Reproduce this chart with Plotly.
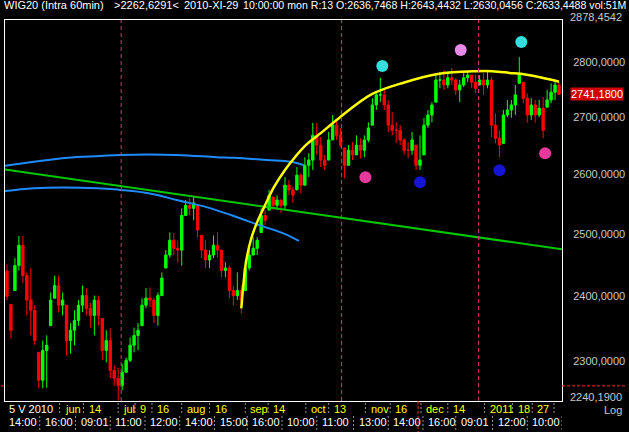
import numpy as np
import plotly.graph_objects as go

# hourly WIG20 bars, 5 V 2010 .. end of I 2011 (one value per ~4px column)
high = [2451, 2387, 2461, 2497, 2497, 2438, 2445, 2386, 2313, 2331,
        2339, 2406, 2433, 2433, 2406, 2386, 2358, 2378, 2394, 2417,
        2413, 2390, 2401, 2401, 2365, 2347, 2350, 2293, 2290, 2296,
        2305, 2336, 2351, 2358, 2397, 2413, 2414, 2397, 2406, 2438,
        2474, 2503, 2502, 2490, 2543, 2557, 2560, 2562, 2548, 2498,
        2490, 2474, 2498, 2503, 2474, 2454, 2449, 2417, 2438, 2417,
        2458, 2479, 2495, 2495, 2543, 2540, 2574, 2562, 2565, 2557,
        2596, 2591, 2579, 2613, 2602, 2630, 2637, 2690, 2690, 2665,
        2634, 2674, 2704, 2695, 2681, 2646, 2651, 2656, 2668, 2663,
        2668, 2691, 2734, 2745, 2771, 2752, 2731, 2709, 2691, 2686,
        2663, 2656, 2674, 2651, 2668, 2699, 2713, 2727, 2776, 2782,
        2785, 2780, 2789, 2771, 2767, 2780, 2783, 2776, 2776, 2776,
        2780, 2782, 2772, 2707, 2677, 2713, 2731, 2731, 2758, 2809,
        2763, 2743, 2734, 2731, 2731, 2736, 2749, 2761, 2767, 2763]
low = [2394, 2334, 2409, 2441, 2421, 2370, 2339, 2324, 2259, 2259,
       2260, 2354, 2397, 2375, 2370, 2308, 2311, 2324, 2354, 2375,
       2370, 2351, 2339, 2354, 2301, 2298, 2274, 2263, 2241, 2256,
       2283, 2298, 2313, 2316, 2354, 2381, 2383, 2358, 2354, 2401,
       2445, 2462, 2466, 2454, 2449, 2531, 2531, 2523, 2495, 2461,
       2445, 2445, 2461, 2462, 2430, 2430, 2397, 2386, 2394, 2373,
       2409, 2441, 2466, 2466, 2503, 2515, 2540, 2540, 2540, 2535,
       2540, 2565, 2552, 2574, 2568, 2582, 2596, 2608, 2634, 2613,
       2608, 2625, 2660, 2660, 2647, 2594, 2616, 2625, 2634, 2628,
       2630, 2656, 2686, 2713, 2727, 2713, 2674, 2668, 2654, 2651,
       2634, 2628, 2634, 2608, 2608, 2634, 2681, 2691, 2727, 2752,
       2749, 2752, 2758, 2740, 2727, 2754, 2763, 2752, 2743, 2758,
       2740, 2752, 2665, 2654, 2630, 2654, 2700, 2699, 2704, 2761,
       2725, 2690, 2695, 2690, 2700, 2663, 2718, 2725, 2731, 2740]
close = [2400, 2347, 2449, 2482, 2433, 2394, 2378, 2331, 2271, 2316,
         2324, 2394, 2417, 2386, 2394, 2331, 2347, 2362, 2386, 2401,
         2381, 2370, 2394, 2370, 2316, 2331, 2286, 2274, 2263, 2283,
         2301, 2324, 2339, 2347, 2386, 2397, 2394, 2370, 2401, 2429,
         2466, 2490, 2477, 2474, 2531, 2548, 2543, 2552, 2507, 2474,
         2458, 2466, 2482, 2474, 2441, 2445, 2409, 2401, 2409, 2394,
         2445, 2466, 2477, 2490, 2531, 2523, 2565, 2548, 2557, 2548,
         2582, 2574, 2565, 2599, 2582, 2616, 2625, 2668, 2651, 2625,
         2616, 2660, 2686, 2668, 2651, 2616, 2642, 2634, 2651, 2642,
         2660, 2681, 2722, 2740, 2740, 2722, 2686, 2677, 2677, 2660,
         2642, 2642, 2660, 2616, 2625, 2686, 2704, 2722, 2767, 2767,
         2758, 2771, 2767, 2749, 2758, 2771, 2776, 2763, 2752, 2767,
         2758, 2767, 2686, 2663, 2651, 2704, 2713, 2722, 2740, 2776,
         2734, 2704, 2722, 2704, 2716, 2677, 2731, 2745, 2758, 2741.18]
first_open = 2440

# drawn studies (bar index, price)
arc_blue_hi_x = [-0.5, 6.75, 15.25, 23.5, 28.5, 42.75, 52.75, 57.25, 65.5, 71.5, 74.75]
arc_blue_hi_y = [2615, 2622, 2629, 2632, 2634, 2634, 2630, 2629, 2625, 2622, 2616]
arc_blue_lo_x = [-0.5, 6.75, 22.75, 28.5, 36, 42.75, 50.25, 56.75, 63.5, 69.75, 73.5]
arc_blue_lo_y = [2572, 2577, 2577, 2574, 2568, 2557, 2545, 2531, 2515, 2501, 2489]
trend_x = [-0.5, 139.75]
trend_y = [2608.6, 2475.3]
arc_yellow_x = [59, 59.5, 60.25, 61.5, 63, 64.75, 67.25, 70, 72.5, 75.25, 79, 83.5,
                91.75, 100.25, 108.5, 118, 122.25, 126.5, 130.5, 134.75, 139]
arc_yellow_y = [2381, 2417, 2457, 2493, 2520, 2545, 2579, 2608, 2630, 2651, 2672, 2698,
                2741, 2763, 2778, 2783, 2783, 2780, 2777, 2771, 2764]
dots_x = [94.5, 129.5, 114.25, 90.25, 104, 124, 135.5]
dots_y = [2792.6, 2837.1, 2822.2, 2595.6, 2587.1, 2607.6, 2637.0]
dots_c = ['#33dede', '#33dede', '#e68ae6', '#e6399b', '#1414d2', '#1414d2', '#e6399b']
session_lines = [28.75, 84.25, 118.75]
cursor_x = 103.5
cursor_y = 2262.6291

# time axis
top_labels = ['5 V 2010', 'jun', '14', 'jul', '9', '16', 'aug', '16', 'sep', '14',
              'oct', '13', 'nov', '16', 'dec', '14', '2011', '18', '27']
top_pos = [-0.75, 13.25, 19.25, 28, 32.25, 36.5, 44, 51, 60, 65.75,
           75.25, 81, 90.25, 96.5, 104.25, 111, 120.25, 127.25, 132.25, 137.75]
bottom_labels = ['14:00', '16:00', '09:01', '11:00', '12:00', '14:00', '15:00', '16:00',
                 '10:00', '11:00', '13:00', '14:00', '16:00', '09:01', '12:00', '10:00']
bottom_pos = [-0.75, 8.25, 17.25, 26, 34.75, 43.5, 52.25, 60.5, 69.25, 78,
              87.25, 96, 104.75, 113, 122.25, 131, 139.75]
price_ticks = [2300, 2400, 2500, 2600, 2700, 2800]
price_min, price_max = 2240.19, 2878.4542
header_parts = ['WIG20 (Intra 60min)', '>2262,6291<', '2010-XI-29',
                '10:00:00 mon R:13 O:2636,7468 H:2643,4432 L:2630,0456 C:2633,4488 vol:51M']


def fmt(v):
    return f"{v:.4f}".replace('.', ',')


x = list(range(len(close)))
prev = [first_open] + close[:-1]
open_ = [min(max(p, l), h) for p, l, h in zip(prev, low, high)]

font = 'Liberation Sans, Arial, sans-serif'
grey = '#c8c8c8'
fig = go.Figure()
fig.add_candlestick(
    x=x, open=open_, high=high, low=low, close=close,
    increasing=dict(line=dict(color='#00ff00', width=1), fillcolor='#00ff00'),
    decreasing=dict(line=dict(color='#ff0000', width=1), fillcolor='#ff0000'),
    whiskerwidth=0, showlegend=False, hoverinfo='skip',
)
fig.add_scatter(x=arc_blue_hi_x, y=arc_blue_hi_y, mode='lines',
                line=dict(color='#1e8cff', width=2, shape='spline'), showlegend=False)
fig.add_scatter(x=arc_blue_lo_x, y=arc_blue_lo_y, mode='lines',
                line=dict(color='#1e8cff', width=2, shape='spline'), showlegend=False)
fig.add_scatter(x=trend_x, y=trend_y, mode='lines',
                line=dict(color='#00c800', width=2), showlegend=False)
fig.add_scatter(x=arc_yellow_x, y=arc_yellow_y, mode='lines',
                line=dict(color='#ffff00', width=2.5, shape='spline'), showlegend=False)
fig.add_scatter(x=dots_x, y=dots_y, mode='markers',
                marker=dict(size=12, color=dots_c, line=dict(width=0)), showlegend=False)
fig.add_scatter(x=[len(close) + 1], y=[close[-1]], mode='markers', cliponaxis=False,
                marker=dict(symbol='triangle-right', size=8, color='#ffff00'),
                showlegend=False)

shapes = []
for sx in session_lines:
    shapes.append(dict(type='line', xref='x', yref='paper', x0=sx, x1=sx, y0=0, y1=1,
                       line=dict(color='#e0307a', width=1, dash='4px,3px')))
shapes.append(dict(type='line', xref='x', yref='paper', ysizemode='pixel', yanchor=0,
                   x0=cursor_x, x1=cursor_x, y0=0, y1=-31,
                   line=dict(color='#ff2020', width=1, dash='3px,2px')))
for xa, x0, x1 in ((1, 0, 64), (0, -4, 0)):
    shapes.append(dict(type='line', xref='paper', yref='y', xsizemode='pixel', xanchor=xa,
                       x0=x0, x1=x1, y0=cursor_y, y1=cursor_y,
                       line=dict(color='#ff2020', width=1, dash='3px,2px')))
for p in top_pos:
    shapes.append(dict(type='line', xref='x', yref='paper', ysizemode='pixel', yanchor=0,
                       x0=p, x1=p, y0=-2, y1=-14,
                       line=dict(color='#909090', width=1, dash='2px,2px')))
for p in bottom_pos:
    shapes.append(dict(type='line', xref='x', yref='paper', ysizemode='pixel', yanchor=0,
                       x0=p, x1=p, y0=-15, y1=-31,
                       line=dict(color='#909090', width=1, dash='2px,2px')))

ann = []
for i, t in enumerate(top_labels):
    ann.append(dict(text=t, x=top_pos[i] + 0.8, xref='x', xanchor='left',
                    y=0, yref='paper', yanchor='middle', yshift=-8, showarrow=False,
                    font=dict(color='#ffffff' if i == 0 else '#ffff00', size=11, family=font)))
for i, t in enumerate(bottom_labels):
    ann.append(dict(text=t, x=bottom_pos[i] + 0.8, xref='x', xanchor='left',
                    y=0, yref='paper', yanchor='middle', yshift=-21, showarrow=False,
                    font=dict(color='#ffffff', size=11, family=font)))
# header line, pieces placed where the terminal prints them
for t, px, fs in zip(header_parts, (3, 113, 183, 242), (11, 11, 11, 10.6)):
    ann.append(dict(text=t, x=0, xref='paper', xanchor='left', xshift=px - 5,
                    y=1, yref='paper', yanchor='middle', yshift=15, showarrow=False,
                    borderpad=0,
                    font=dict(color='#ffffff', size=fs, family=font)))
ann.append(dict(text=fmt(close[-1]), x=1, xref='paper', xanchor='left', xshift=8,
                y=np.log10(close[-1]), yref='y', yanchor='middle', showarrow=False,
                bgcolor='#d00000', borderpad=0,
                font=dict(color='#ffffff', size=11, family=font)))
# range end labels sit just inside the frame, as in the terminal
for txt, yv, ys in ((fmt(price_max), 1, 3), (fmt(price_min), 0, 4), ('Log', 0, -9)):
    ann.append(dict(text=txt, x=1, xref='paper', xanchor='right', xshift=61,
                    y=yv, yref='paper', yanchor='middle', yshift=ys, showarrow=False,
                    borderpad=0,
                    font=dict(color=grey, size=11, family=font)))

fig.update_layout(
    width=629, height=432,
    margin=dict(l=4, r=64, t=20, b=31),
    paper_bgcolor='#000000', plot_bgcolor='#000000',
    showlegend=False, boxgap=0.15,
    shapes=shapes, annotations=ann,
    xaxis=dict(range=[-0.5, 139.75], showticklabels=False, showgrid=False, zeroline=False,
               showline=True, mirror=True, linecolor='#ffffff', linewidth=1,
               rangeslider=dict(visible=False), fixedrange=True),
    yaxis=dict(type='log', side='right',
               range=[np.log10(price_min), np.log10(price_max)],
               tickmode='array', tickvals=price_ticks,
               ticktext=[fmt(v) for v in price_ticks],
               ticks='', ticklabelstandoff=8, showgrid=False, zeroline=False,
               showline=True, mirror=True, linecolor='#ffffff', linewidth=1,
               tickfont=dict(color=grey, size=11, family=font)),
)

fig.write_html("out.html", config={'displayModeBar': False},
               post_script="document.body.style.margin='0px';"
               "document.body.style.background='#000';")
